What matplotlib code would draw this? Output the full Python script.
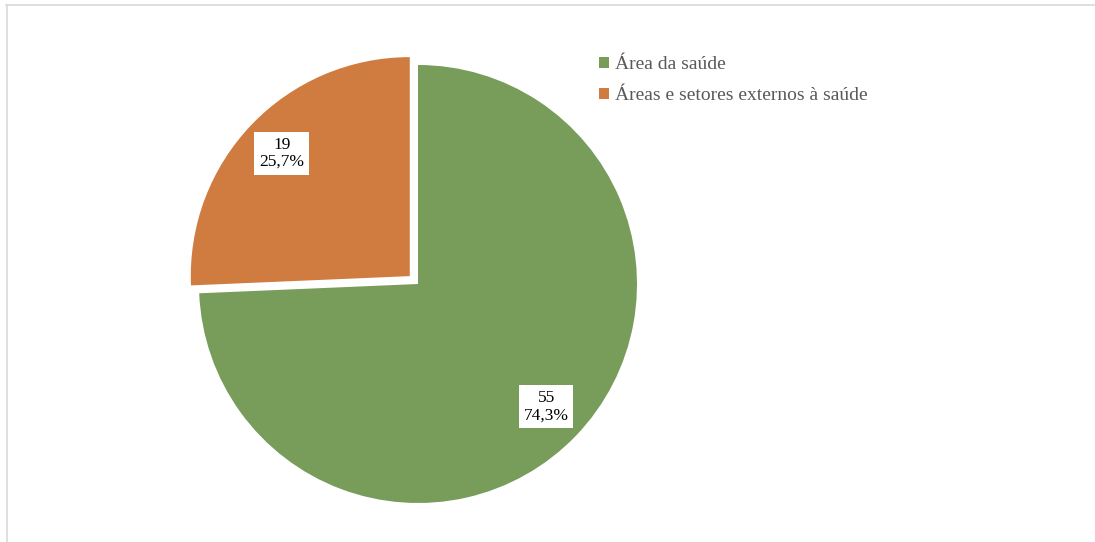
import matplotlib.pyplot as plt
from matplotlib.lines import Line2D

plt.rcParams['font.family'] = ['Liberation Serif', 'DejaVu Serif']

categorias = ['Área da saúde', 'Áreas e setores externos à saúde']
valores = [55, 19]
cores = ['#789D5B', '#D07C40']
explode = [0, 0.052]

total = sum(valores)

fig = plt.figure(figsize=(10.95, 5.42), dpi=100)

# centro da pizza em pixels (418, 284), raio 219 px
cx, cy, r = 418, 284, 219
lim = 1.2
W, H = 1095, 542
ax = fig.add_axes([(cx - lim * r) / W, (H - cy - lim * r) / H, 2 * lim * r / W, 2 * lim * r / H])


def rotulo(p):
    n = round(p * total / 100)
    return f"{n}\n{p:.1f}%".replace('.', ',')


wedges, textos, autotextos = ax.pie(
    valores, colors=cores, explode=explode, startangle=90, counterclock=False,
    autopct=rotulo, pctdistance=0.81, radius=1,
    wedgeprops=dict(linewidth=0),
    textprops=dict(fontsize=12.5, color='black'))

for t in autotextos:
    t.set_linespacing(1.08)
    t.set_bbox(dict(facecolor='white', edgecolor='none', pad=3.5))

ax.set_xlim(-lim, lim)
ax.set_ylim(-lim, lim)
ax.set_aspect('equal')
ax.axis('off')

leg = fig.legend(wedges, categorias, loc='upper left',
                 bbox_to_anchor=(599 / W, 1 - 56 / H), frameon=False,
                 handlelength=0.5, handleheight=0.5, handletextpad=0.3,
                 labelspacing=0.72, borderaxespad=0, borderpad=0,
                 fontsize=14)
for t in leg.get_texts():
    t.set_color('#595959')

# moldura (so topo e lado esquerdo aparecem)
fig.add_artist(Line2D([6 / W, 1], [1 - 5 / H, 1 - 5 / H], transform=fig.transFigure,
                      color='#D9D9D9', linewidth=1.2))
fig.add_artist(Line2D([6.5 / W, 6.5 / W], [0, 1 - 5 / H], transform=fig.transFigure,
                      color='#D9D9D9', linewidth=1.2))

fig.savefig('out.png', dpi=100)
